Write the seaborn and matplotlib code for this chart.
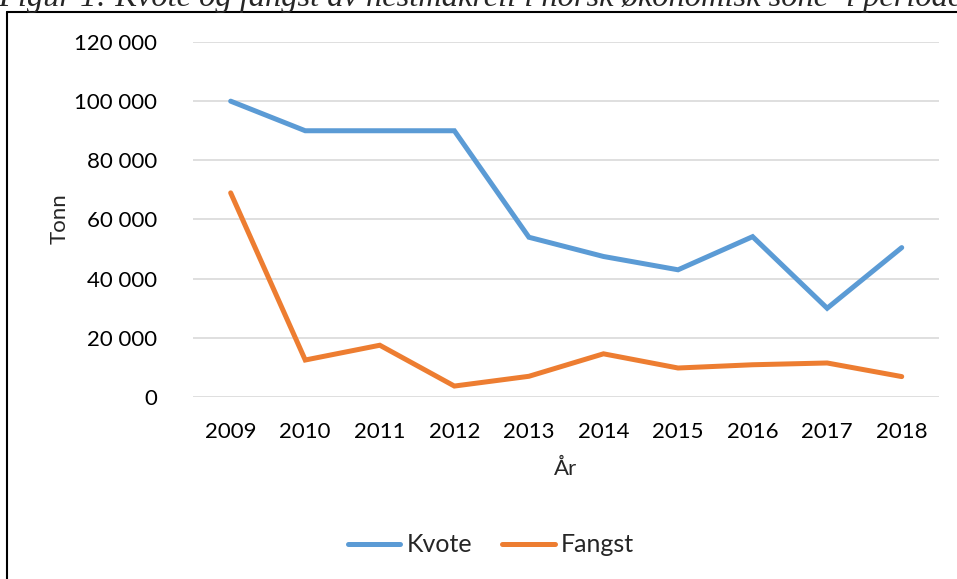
import pandas as pd
import seaborn as sns
import matplotlib.pyplot as plt
from matplotlib.lines import Line2D
from matplotlib.ticker import FuncFormatter

years = [2009, 2010, 2011, 2012, 2013, 2014, 2015, 2016, 2017, 2018]
kvote = [100000, 90000, 90000, 90000, 54000, 47500, 43000, 54200, 30000, 50500]
fangst = [69000, 12500, 17500, 3700, 7000, 14600, 9800, 10900, 11500, 6900]
series = ["Kvote", "Fangst"]
y_ticks = [0, 20000, 40000, 60000, 80000, 100000, 120000]
title = "Figur 1: Kvote og fangst av hestmakrell i norsk økonomisk sone\u00b9 i periode"

sns.set_theme(style="white")
plt.rcParams["font.family"] = ["Lato", "DejaVu Sans"]

df = pd.DataFrame({
    "År": [str(y) for y in years] * 2,
    "Tonn": kvote + fangst,
    "Serie": [series[0]] * len(years) + [series[1]] * len(years),
})

fig = plt.figure(figsize=(9.57, 5.79), dpi=100)
ax = fig.add_axes([193.4 / 957, 1 - 397 / 579, (939 - 193.4) / 957, 355 / 579])

colors = {"Kvote": "#5B9BD5", "Fangst": "#ED7D31"}
sns.lineplot(data=df, x="År", y="Tonn", hue="Serie", palette=colors,
             linewidth=3.6, ax=ax, legend=False, sort=False)
for line in ax.get_lines():
    line.set_solid_capstyle("round")
    line.set_solid_joinstyle("miter")

ax.set_xlim(-0.5, len(years) - 0.5)
ax.set_ylim(0, 120000)
ax.set_yticks(y_ticks)
ax.yaxis.set_major_formatter(FuncFormatter(lambda v, p: f"{int(v):,}".replace(",", " ")))
ax.grid(axis="y", color="#D9D9D9", linewidth=1.2)
ax.set_axisbelow(True)
for s in ax.spines.values():
    s.set_visible(False)
ax.tick_params(axis="both", length=0, labelsize=16, colors="black")
ax.tick_params(axis="y", pad=26)
ax.tick_params(axis="x", pad=18)
ax.set_xlabel("")
ax.set_ylabel("")

fig.text(60 / 957, 1 - 219 / 579, "Tonn", rotation=90, ha="center", va="center", fontsize=16)
fig.text(566 / 957, 1 - 469 / 579, "År", ha="center", va="center", fontsize=16)

handles = [Line2D([], [], color=colors[s], linewidth=3.6, solid_capstyle="round") for s in series]
fig.legend(handles, series, loc="center", bbox_to_anchor=(491 / 957, 1 - 545 / 579), ncol=2,
           frameon=False, fontsize=18, handlelength=2.1, handletextpad=0.25, columnspacing=1.2)

# frame and clipped caption from the source document
fig.add_artist(Line2D([7 / 957, 7 / 957], [0, 1 - 12 / 579], color="black", linewidth=1.5))
fig.add_artist(Line2D([7 / 957, 1], [1 - 12 / 579, 1 - 12 / 579], color="black", linewidth=1.5))
fig.text(-2 / 957, 1 - 6 / 579, title, ha="left", va="baseline", fontsize=23.4,
         family="Liberation Serif", style="italic")

fig.savefig("out.png", dpi=100)
